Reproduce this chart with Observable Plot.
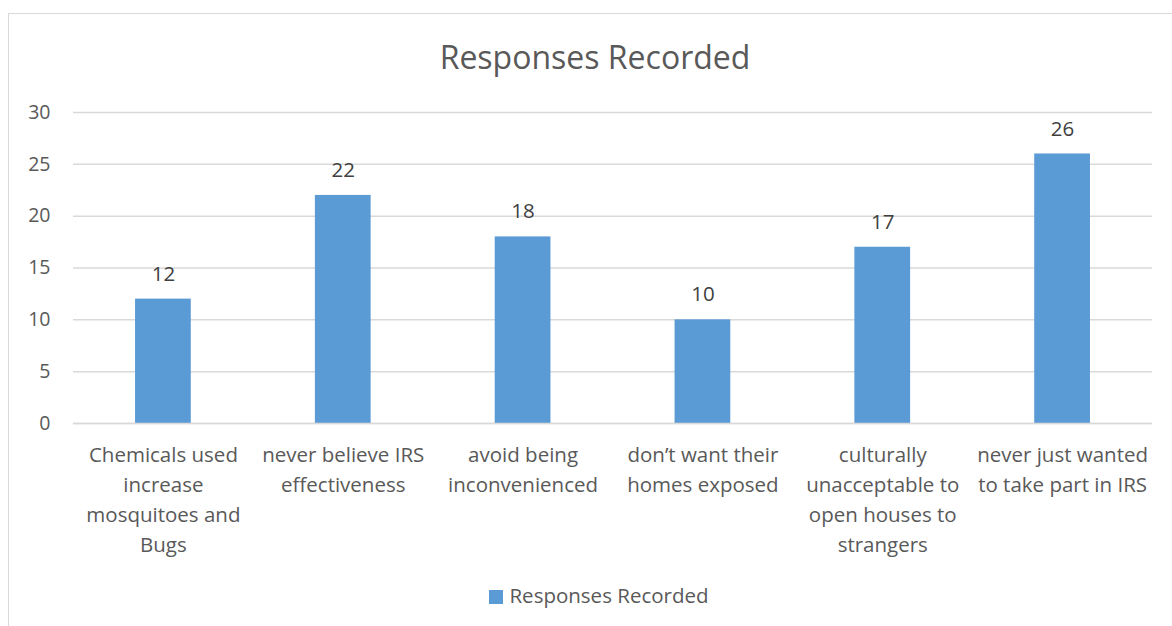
<!DOCTYPE html>
<html>
<head>
<meta charset="utf-8">
<script src="https://cdn.jsdelivr.net/npm/d3@7"></script>
<script src="https://cdn.jsdelivr.net/npm/@observablehq/plot@0.6"></script>
<style>
  html, body { margin: 0; padding: 0; background: #fff; }
  #frame { position: relative; width: 1172px; height: 626px; overflow: hidden; font-family: "Open Sans", Lato, sans-serif; }
  #border { position: absolute; left: 8px; top: 13px; width: 1200px; height: 700px; border: 1.5px solid #d9d9d9; box-sizing: border-box; }
  #title { position: absolute; left: 0; top: 35px; width: 1190px; text-align: center; font-size: 32px; color: #595959; }
  #chart { position: absolute; left: 0; top: 80px; }
  #legend { position: absolute; left: 0; top: 581px; width: 1198px; text-align: center; font-size: 20.5px; color: #595959; }
  #legend .sw { display: inline-block; width: 14px; height: 14px; background: #5b9bd5; margin-right: 6px; vertical-align: -1px; }
</style>
</head>
<body>
<div id="frame">
  <div id="border"></div>
  <div id="title">Responses Recorded</div>
  <div id="chart"></div>
  <div id="legend"><span class="sw"></span>Responses Recorded</div>
</div>
<script>
// Reasons given for refusing indoor residual spraying (IRS)
const categories = [
  "Chemicals used increase mosquitoes and Bugs",
  "never believe IRS effectiveness",
  "avoid being inconvenienced",
  "don’t want their homes exposed",
  "culturally unacceptable to open houses to strangers",
  "never just wanted to take part in IRS"
];
const responses = [12, 22, 18, 10, 17, 26];
const tickLabels = [
  "Chemicals used\nincrease\nmosquitoes and\nBugs",
  "never believe IRS\neffectiveness",
  "avoid being\ninconvenienced",
  "don’t want their\nhomes exposed",
  "culturally\nunacceptable to\nopen houses to\nstrangers",
  "never just wanted\nto take part in IRS"
];
const yTicks = [0, 5, 10, 15, 20, 25, 30];

const data = categories.map((c, i) => ({category: c, value: responses[i]}));
const labelOf = new Map(categories.map((c, i) => [c, tickLabels[i]]));

const chart = Plot.plot({
  width: 1172,
  height: 490,
  marginLeft: 73,
  marginRight: 20,
  marginTop: 32,
  marginBottom: 147,
  style: {fontFamily: "'Open Sans', Lato, sans-serif", background: "transparent"},
  x: {domain: categories, paddingInner: 0.69, paddingOuter: 0.345, round: false},
  y: {domain: [0, 30]},
  marks: [
    Plot.gridY(yTicks, {stroke: "#d9d9d9", strokeOpacity: 1, strokeWidth: 1.5}),
    Plot.barY(data, {x: "category", y: "value", fill: "#5b9bd5"}),
    Plot.ruleY([0], {stroke: "#d9d9d9", strokeWidth: 1.5}),
    Plot.text(data, {x: "category", y: "value", text: d => String(d.value), dy: -25, fontSize: 20.5, fill: "#404040"}),
    Plot.axisY(yTicks, {tickSize: 0, tickPadding: 23, fontSize: 19.5, color: "#595959", label: null}),
    Plot.axisX({tickSize: 0, tickPadding: 17, fontSize: 20.5, lineHeight: 1.46, color: "#595959", label: null,
      tickFormat: c => labelOf.get(c)})
  ]
});
document.getElementById("chart").appendChild(chart);
</script>
</body>
</html>
